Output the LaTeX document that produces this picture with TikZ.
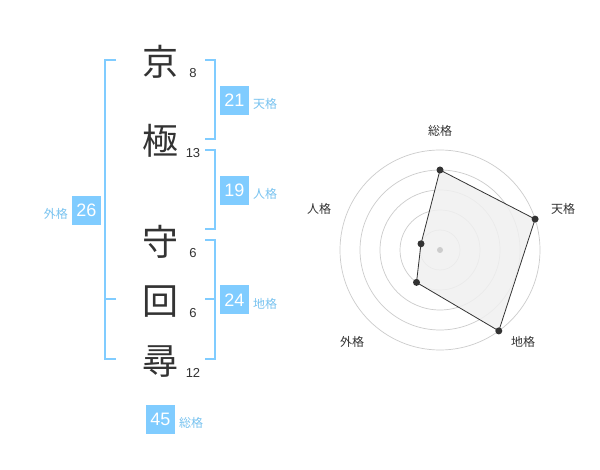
\documentclass[tikz,border=0pt]{standalone}
\usepackage{fontspec}
\setmainfont{Liberation Sans}
\newfontfamily\cjk{Noto Sans CJK JP}
\definecolor{kblue}{RGB}{128,204,255}
\definecolor{lblue}{RGB}{120,195,240}
\definecolor{ink}{RGB}{51,51,51}
\definecolor{ring}{RGB}{204,204,204}
\definecolor{area}{RGB}{240,240,240}
\tikzset{
  kanji/.style={font=\cjk\fontsize{36}{36}\selectfont, text=ink, inner sep=0pt},
  stroke/.style={font=\fontsize{13}{13}\selectfont, text=ink, inner sep=0pt},
  numbox/.style={fill=kblue, text=white, font=\fontsize{18}{18}\selectfont, minimum width=29pt, minimum height=29pt, inner sep=0pt},
  kaku/.style={font=\cjk\fontsize{12}{12}\selectfont, text=lblue, inner sep=0pt},
  bracket/.style={draw=kblue, line width=2pt},
  rlabel/.style={font=\cjk\fontsize{12}{12}\selectfont, text=ink, inner sep=0pt},
  ringline/.style={draw=ring, line width=0.7pt},
  dot/.style={circle, fill=ink, minimum size=7pt, inner sep=0pt},
}
\begin{document}
\begin{tikzpicture}[x=1pt,y=-1pt]
\useasboundingbox (0,0) rectangle (600,470);
\fill[white] (0,0) rectangle (600,470);
% kanji
\node[kanji] (k1) at (160,62) {京};
\node[kanji] (k2) at (160,141) {極};
\node[kanji] (k3) at (160,242) {守};
\node[kanji] (k4) at (160,302) {回};
\node[kanji] (k5) at (160,362) {尋};
% stroke counts
\node[stroke] (s1) at (193,73) {8};
\node[stroke] (s2) at (193,153) {13};
\node[stroke] (s3) at (193,253) {6};
\node[stroke] (s4) at (193,313) {6};
\node[stroke] (s5) at (193,373) {12};
% brackets
\coordinate (tA) at (205,60); \coordinate (tB) at (205,139);
\draw[bracket] (tA) -- ++(10,0) |- (tB);
\coordinate (jA) at (205,150); \coordinate (jB) at (205,229);
\draw[bracket] (jA) -- ++(10,0) |- (jB);
\coordinate (cA) at (205,240); \coordinate (cB) at (205,359); \coordinate (cM) at (205,299.5);
\draw[bracket] (cA) -- ++(10,0) |- (cB);
\draw[bracket] (cM) -- ++(10,0);
\coordinate (gA) at (116,60); \coordinate (gB) at (116,359); \coordinate (gM) at (116,299.5);
\draw[bracket] (gA) -- ++(-11,0) |- (gB);
\draw[bracket] (gM) -- ++(-11,0);
% boxes
\node[numbox] (b21) at (234.5,100.5) {21};
\node[kaku, anchor=west] (l21) at (253,104) {天格};
\node[numbox] (b19) at (234.5,190.5) {19};
\node[kaku, anchor=west] (l19) at (253,194) {人格};
\node[numbox] (b24) at (234.5,300) {24};
\node[kaku, anchor=west] (l24) at (253,304) {地格};
\node[numbox] (b26) at (86.5,210.5) {26};
\node[kaku, anchor=east] (l26) at (68,213.5) {外格};
\node[numbox] (b45) at (160.5,419) {45};
\node[kaku, anchor=west] (l45) at (179,422.5) {総格};
% radar
\coordinate (c) at (440,250);
\foreach \r in {20,40,60,80,100} \draw[ringline] (c) circle[radius=\r];
\coordinate (pS) at (440,170);
\coordinate (pT) at (535.1,219.1);
\coordinate (pC) at (498.8,330.9);
\coordinate (pG) at (416.5,282.4);
\coordinate (pJ) at (421,243.8);
\draw[fill=area, fill opacity=0.85, draw=ink, line width=0.8pt] (pS) -- (pT) -- (pC) -- (pG) -- (pJ) -- cycle;
\node[circle, fill=ring, minimum size=6pt, inner sep=0pt] (cd) at (c) {};
\foreach \p in {pS,pT,pC,pG,pJ} \node[dot] at (\p) {};
\node[rlabel] (rS) at (440,131) {総格};
\node[rlabel] (rT) at (563,209) {天格};
\node[rlabel] (rC) at (523,342) {地格};
\node[rlabel] (rG) at (352,342) {外格};
\node[rlabel] (rJ) at (319,209) {人格};
\end{tikzpicture}
\end{document}
